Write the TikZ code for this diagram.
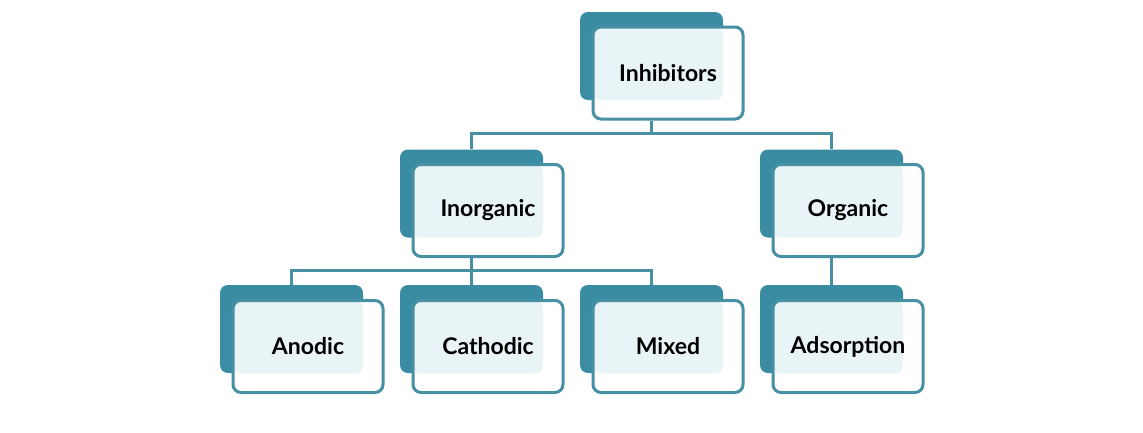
\documentclass[tikz,border=0pt]{standalone}
\usepackage{fontspec}
\setmainfont{Lato}
\usetikzlibrary{positioning}
\definecolor{tealdark}{HTML}{3A8CA2}
\definecolor{tealline}{HTML}{4890A4}
\definecolor{palefill}{HTML}{E9F4F7}
\begin{document}
\begin{tikzpicture}[x=1pt, y=-1pt]
\tikzset{
  backbox/.style={fill=tealdark, rounded corners=8pt, minimum width=143pt, minimum height=88pt, inner sep=0pt},
  frontbox/.style={draw=tealline, line width=3pt, fill=white, rounded corners=8pt, minimum width=150pt, minimum height=92pt, inner sep=0pt,
    font=\fontsize{23}{27}\selectfont\bfseries,
    path picture={\fill[palefill] (path picture bounding box.north west) rectangle ++(130,73);}},
  link/.style={draw=tealline, line width=3pt}
}
\begin {scope}
  \useasboundingbox (0,0) rectangle (1143,432);
  \fill[white] (0,0) rectangle (1143,432);
  \node [backbox] (inhB) at (651.5,56) {};
  \node [frontbox] (inhF) at (668,73) {Inhibitors};
  \node [backbox] (inoB) at (471.5,193.5) {};
  \node [frontbox] (inoF) at (488,210.5) {Inorganic};
  \node [backbox] (orgB) at (831.5,193.5) {};
  \node [frontbox] (orgF) at (848,210.5) {Organic};
  \node [backbox] (anoB) at (291.5,329) {};
  \node [frontbox] (anoF) at (308,346.5) {Anodic};
  \node [backbox] (catB) at (471.5,329) {};
  \node [frontbox] (catF) at (488,346.5) {Cathodic};
  \node [backbox] (mixB) at (651.5,329) {};
  \node [frontbox] (mixF) at (668,346.5) {Mixed};
  \node [backbox] (adsB) at (831.5,329) {};
  \node [frontbox] (adsF) at (848,346.5) {Adsorption};
  \coordinate (busA) at (651.5,133);
  \coordinate (busB) at (471.5,270);
  \draw [link] (inhB.center |- inhF.south) -- (busA);
  \draw [link] (inoB.north) |- (busA) -| (orgB.north);
  \draw [link] (inoB.center |- inoF.south) -- (busB);
  \draw [link] (anoB.north) |- (busB) -| (mixB.north);
  \draw [link] (busB) -- (catB.north);
  \draw [link] (orgB.center |- orgF.south) -- (adsB.north);
\end {scope}
\end{tikzpicture}
\end{document}
